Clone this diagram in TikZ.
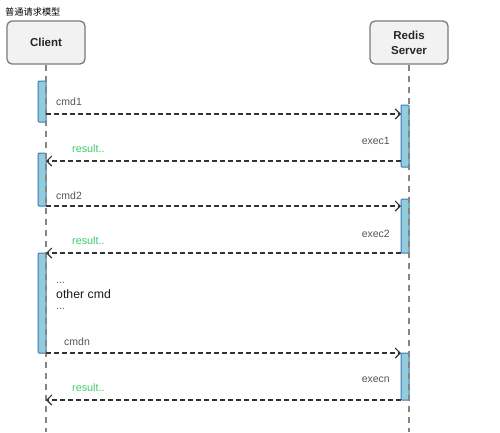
\documentclass[tikz,border=0pt]{standalone}
\usepackage{fontspec}
\setmainfont{Liberation Sans}
\newfontfamily\cjkfont{Noto Sans CJK SC}
\usetikzlibrary{arrows.meta}
\definecolor{boxfill}{HTML}{F2F2F2}
\definecolor{boxline}{HTML}{7A7A7A}
\definecolor{barfill}{HTML}{92CDDC}
\definecolor{barline}{HTML}{3F76B8}
\definecolor{lifegray}{HTML}{858585}
\definecolor{msgline}{HTML}{333333}
\definecolor{lbl}{HTML}{555555}
\definecolor{resgreen}{HTML}{3DCB6E}
\tikzset{
  actor/.style={draw=boxline, line width=1.3pt, fill=boxfill, rounded corners=5pt,
    minimum width=78pt, minimum height=43pt, align=center, inner sep=0pt,
    font=\fontsize{11.5}{15}\selectfont\bfseries, text=black!85},
  actbar/.style={draw=barline, line width=1pt, fill=barfill, minimum width=8pt, inner sep=0pt, rounded corners=1pt},
  life/.style={draw=lifegray, line width=1.8pt, dash pattern=on 6pt off 5pt},
  msg/.style={draw=msgline, line width=1.1pt, dash pattern=on 5pt off 3pt, -{Straight Barb[length=5pt,width=10pt,line width=1.1pt]}},
  msgtxt/.style={font=\fontsize{10.5}{12}\selectfont, text=lbl, inner sep=0pt},
  restxt/.style={font=\fontsize{10.8}{12}\selectfont, text=resgreen, inner sep=0pt, anchor=west},
}
\begin{document}
\begin{tikzpicture}[x=1pt,y=-1pt]
\useasboundingbox (0,0) rectangle (500,432);
\node[anchor=west, inner sep=0pt, font=\cjkfont\fontsize{9.2}{11}\selectfont] (title) at (5,12) {普通请求模型};
\node[actor] (client) at (46,42.5) {Client};
\node[actor] (server) at (409,42.5) {Redis\\Server};
% activation bars
\node[actbar, minimum height=41pt] (c1) at (42,101.5) {};
\node[actbar, minimum height=53pt] (c2) at (42,179.5) {};
\node[actbar, minimum height=100pt] (c3) at (42,303) {};
\node[actbar, minimum height=62pt] (s1) at (405,136) {};
\node[actbar, minimum height=54pt] (s2) at (405,226) {};
\node[actbar, minimum height=47pt] (s3) at (405,376.5) {};
% lifelines
\coordinate (cend) at (46,432);
\coordinate (send) at (409,432);
\draw[life] (client.south) -- (cend);
\draw[life] (server.south) -- (send);
% messages
\coordinate (m1a) at (46,114); \coordinate (m1b) at (401,114);
\coordinate (r1a) at (401,161); \coordinate (r1b) at (46,161);
\coordinate (m2a) at (46,206); \coordinate (m2b) at (401,206);
\coordinate (r2a) at (401,253); \coordinate (r2b) at (46,253);
\coordinate (mna) at (46,353); \coordinate (mnb) at (401,353);
\coordinate (rna) at (401,400); \coordinate (rnb) at (46,400);
\draw[msg] (m1a) -- (m1b);
\draw[msg] (r1a) -- (r1b);
\draw[msg] (m2a) -- (m2b);
\draw[msg] (r2a) -- (r2b);
\draw[msg] (mna) -- (mnb);
\draw[msg] (rna) -- (rnb);
% labels
\node[msgtxt, anchor=west] (l1) at (56,102) {cmd1};
\node[msgtxt, anchor=east] (e1) at (390,141) {exec1};
\node[restxt] (g1) at (72,149) {result..};
\node[msgtxt, anchor=west] (l2) at (56,196) {cmd2};
\node[msgtxt, anchor=east] (e2) at (390,234) {exec2};
\node[restxt] (g2) at (72,241) {result..};
\node[msgtxt, anchor=base west] (d1) at (56,283) {...};
\node[anchor=base west, inner sep=0pt, font=\fontsize{12.3}{14}\selectfont, text=black!90] (oc) at (56,298) {other cmd};
\node[msgtxt, anchor=base west] (d2) at (56,309) {...};
\node[msgtxt, anchor=west] (ln) at (64,342) {cmdn};
\node[msgtxt, anchor=east] (en) at (390,380) {execn};
\node[restxt] (gn) at (72,388) {result..};
\end{tikzpicture}
\end{document}
